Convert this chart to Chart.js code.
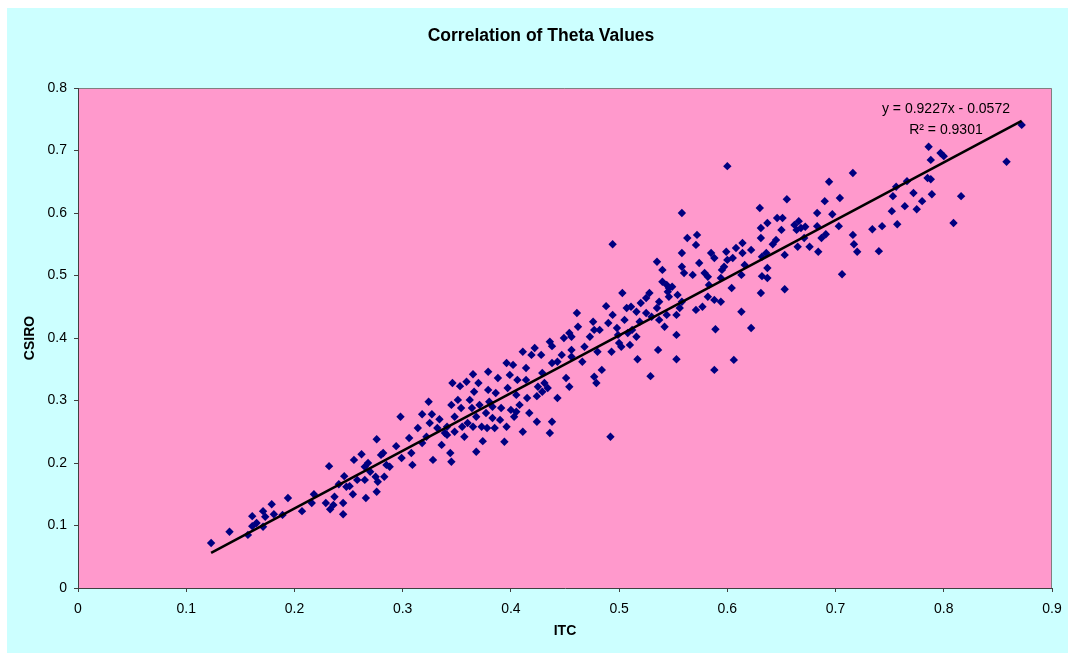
<!DOCTYPE html>
<html>
<head>
<meta charset="utf-8">
<title>Correlation of Theta Values</title>
<script src="https://cdn.jsdelivr.net/npm/chart.js@4/dist/chart.umd.min.js"></script>
<style>
  html, body { margin: 0; padding: 0; background: #ffffff; }
  #wrap { position: absolute; left: 0; top: 0; width: 1068px; height: 653px; }
</style>
</head>
<body>
<div id="wrap"><canvas id="c" width="1068" height="653"></canvas></div>
<script>
// Theta values per sample: ITC (x) against CSIRO (y)
const itcValues = [
  0.123,0.140,0.157,0.161,0.161,0.165,0.171,0.173,0.171,0.179,0.181,0.189,0.194,0.207,0.216,0.218,
  0.229,0.232,0.233,0.236,0.237,0.245,0.245,0.241,0.246,0.248,0.251,0.254,0.255,0.258,0.262,0.265,
  0.266,0.265,0.268,0.270,0.276,0.275,0.276,0.277,0.280,0.282,0.283,0.285,0.288,
  0.298,0.324,0.318,0.327,0.334,0.314,0.325,0.306,0.294,0.299,0.308,0.309,0.318,0.322,0.328,0.336,
  0.339,0.341,0.344,0.345,0.346,0.345,0.348,0.351,0.353,0.354,0.355,0.357,0.359,0.362,0.364,0.365,
  0.366,0.368,0.368,0.370,0.371,0.373,0.374,0.377,0.379,0.379,0.380,0.383,0.385,0.386,0.388,0.391,
  0.394,0.396,0.397,0.399,0.400,0.402,0.403,0.405,0.406,0.408,0.411,0.411,0.414,0.414,0.415,0.417,
  0.419,0.422,0.424,0.424,0.425,0.428,0.429,0.431,0.434,0.436,0.436,0.438,0.438,0.443,0.449,0.451,
  0.454,0.454,0.456,0.461,
  0.332,0.341,0.348,0.360,0.365,0.378,0.383,0.390,0.396,0.405,0.429,0.438,0.443,0.447,0.456,0.456,
  0.494,0.462,0.468,0.473,0.476,0.477,0.480,0.482,0.484,0.477,0.479,0.466,0.488,0.490,0.494,0.493,
  0.498,0.499,0.500,0.502,0.503,0.505,0.507,0.508,0.510,0.511,0.512,0.516,0.516,0.517,0.519,0.520,
  0.525,0.528,0.525,0.529,0.530,0.535,0.535,0.536,0.537,0.537,0.540,0.540,0.542,0.544,0.544,0.545,
  0.546,0.546,0.549,0.553,0.553,0.553,0.554,0.556,0.558,0.558,0.558,0.560,0.563,0.568,0.571,0.572,
  0.571,0.574,0.577,0.579,0.582,0.582,0.583,0.585,0.588,0.588,0.589,0.588,0.594,0.594,0.595,0.597,
  0.599,0.600,0.604,0.605,0.606,0.608,0.613,0.613,0.614,0.614,0.616,0.622,0.622,
  0.716,0.694,0.655,0.630,0.690,0.704,0.683,0.697,0.646,0.651,0.637,0.631,0.650,0.666,0.662,0.664,
  0.668,0.672,0.683,0.703,0.631,0.645,0.642,0.671,0.687,0.691,0.716,0.717,0.720,0.665,0.676,0.636,
  0.632,0.653,0.684,0.734,0.743,0.740,0.757,0.752,0.764,0.753,0.756,0.772,0.766,0.775,0.637,0.632,
  0.637,0.631,0.653,0.706,
  0.872,0.786,0.797,0.800,0.788,0.858,0.785,0.788,0.789,0.816,0.780,0.809,
  0.492,0.600,0.558
];
const csiroValues = [
  0.072,0.090,0.085,0.115,0.099,0.104,0.123,0.114,0.098,0.134,0.118,0.117,0.144,0.123,0.136,0.150,
  0.136,0.195,0.126,0.133,0.146,0.118,0.136,0.166,0.179,0.162,0.163,0.150,0.205,0.173,0.214,0.173,
  0.144,0.194,0.200,0.186,0.238,0.178,0.154,0.170,0.213,0.216,0.178,0.197,0.194,
  0.274,0.298,0.278,0.278,0.270,0.256,0.264,0.240,0.227,0.208,0.216,0.197,0.232,0.242,0.205,0.229,
  0.248,0.258,0.216,0.202,0.328,0.293,0.274,0.301,0.323,0.288,0.258,0.242,0.330,0.301,0.288,0.342,
  0.314,0.274,0.218,0.328,0.293,0.258,0.235,0.280,0.317,0.346,0.298,0.272,0.256,0.312,0.336,0.288,
  0.234,0.360,0.320,0.341,0.285,0.357,0.274,0.309,0.333,0.293,0.250,0.378,0.352,0.333,0.304,0.280,
  0.373,0.384,0.266,0.307,0.322,0.373,0.344,0.328,0.320,0.394,0.248,0.387,0.266,0.304,0.400,0.336,
  0.408,0.322,0.381,0.440,
  0.256,0.245,0.250,0.264,0.258,0.256,0.290,0.269,0.258,0.282,0.314,0.360,0.362,0.373,0.402,0.370,
  0.550,0.418,0.386,0.402,0.426,0.413,0.378,0.413,0.349,0.338,0.328,0.362,0.451,0.424,0.437,0.378,
  0.416,0.405,0.392,0.386,0.472,0.429,0.448,0.408,0.389,0.450,0.413,0.442,0.402,0.366,0.426,0.456,
  0.464,0.472,0.440,0.339,0.434,0.448,0.522,0.381,0.429,0.458,0.509,0.490,0.418,0.485,0.437,0.474,
  0.480,0.466,0.482,0.405,0.437,0.366,0.469,0.448,0.458,0.536,0.514,0.504,0.560,0.501,0.549,0.565,
  0.445,0.520,0.450,0.504,0.498,0.466,0.485,0.536,0.528,0.461,0.414,0.349,0.458,0.496,0.509,0.514,
  0.538,0.525,0.480,0.528,0.365,0.544,0.442,0.501,0.552,0.536,0.517,0.541,0.416,
  0.664,0.650,0.622,0.608,0.619,0.624,0.600,0.598,0.592,0.592,0.584,0.576,0.573,0.587,0.581,0.573,
  0.576,0.578,0.579,0.579,0.560,0.557,0.550,0.560,0.560,0.566,0.565,0.550,0.538,0.546,0.546,0.536,
  0.530,0.533,0.538,0.574,0.579,0.539,0.582,0.603,0.611,0.627,0.642,0.632,0.651,0.606,0.512,0.499,
  0.496,0.472,0.478,0.502,
  0.741,0.706,0.696,0.691,0.685,0.682,0.656,0.654,0.630,0.627,0.619,0.584,
  0.242,0.675,0.600
];

// Axis ticks
const xTickValues = [0, 0.1, 0.2, 0.3, 0.4, 0.5, 0.6, 0.7, 0.8, 0.9];
const xTickLabels = ['0', '0.1', '0.2', '0.3', '0.4', '0.5', '0.6', '0.7', '0.8', '0.9'];
const yTickValues = [0, 0.1, 0.2, 0.3, 0.4, 0.5, 0.6, 0.7, 0.8];
const yTickLabels = ['0', '0.1', '0.2', '0.3', '0.4', '0.5', '0.6', '0.7', '0.8'];

// Linear trendline and its fit statistics
const trendSlope = 0.9227;
const trendIntercept = -0.0572;
const trendRSquared = 0.9301;

const chartTitle = 'Correlation of Theta Values';
const xAxisTitle = 'ITC';
const yAxisTitle = 'CSIRO';

const FONT = '"Liberation Sans", Arial, Helvetica, sans-serif';

const points = itcValues.map((x, i) => ({ x: x, y: csiroValues[i] }));
const xMin = Math.min(...itcValues);
const xMax = Math.max(...itcValues);
const trendPoints = [
  { x: xMin, y: trendSlope * xMin + trendIntercept },
  { x: xMax, y: trendSlope * xMax + trendIntercept }
];

// Paints the outer panel, the plot background and the plot frame
const backgroundPlugin = {
  id: 'panelBackground',
  beforeDraw(chart) {
    const ctx = chart.ctx;
    const a = chart.chartArea;
    ctx.save();
    ctx.fillStyle = '#ffffff';
    ctx.fillRect(0, 0, chart.width, chart.height);
    ctx.fillStyle = '#ccffff';
    ctx.fillRect(7, 8, chart.width - 7, chart.height - 8);
    ctx.fillStyle = '#ff99cc';
    ctx.fillRect(a.left, a.top, a.right - a.left, a.bottom - a.top);
    ctx.strokeStyle = '#808080';
    ctx.lineWidth = 1;
    ctx.beginPath();
    ctx.moveTo(a.left, a.top + 0.5);
    ctx.lineTo(a.right - 0.5, a.top + 0.5);
    ctx.lineTo(a.right - 0.5, a.bottom);
    ctx.stroke();
    ctx.restore();
  }
};

// Chart heading and the trendline equation
const textPlugin = {
  id: 'chartTexts',
  afterDraw(chart) {
    const ctx = chart.ctx;
    const xs = chart.scales.x;
    const ys = chart.scales.y;
    ctx.save();
    ctx.fillStyle = '#000000';
    ctx.textAlign = 'center';
    ctx.textBaseline = 'middle';
    ctx.font = 'bold 17.5px ' + FONT;
    ctx.fillText(chartTitle, 541, 36);

    ctx.font = '14px ' + FONT;
    const ex = xs.getPixelForValue(0.802);
    ctx.fillText('y = ' + trendSlope.toFixed(4) + 'x - ' + Math.abs(trendIntercept).toFixed(4), ex, ys.getPixelForValue(0.766));
    ctx.fillText('R\u00B2 = ' + trendRSquared.toFixed(4), ex, ys.getPixelForValue(0.733));
    ctx.restore();
  }
};

new Chart(document.getElementById('c'), {
  type: 'scatter',
  data: {
    datasets: [
      {
        label: 'Linear (CSIRO)',
        data: trendPoints,
        showLine: true,
        borderColor: '#000000',
        borderWidth: 2.5,
        pointRadius: 0,
        fill: false,
        order: 0
      },
      {
        label: 'CSIRO',
        data: points,
        pointStyle: 'rectRot',
        pointRadius: 4.2,
        backgroundColor: '#000080',
        borderColor: '#000080',
        borderWidth: 0,
        order: 1
      }
    ]
  },
  options: {
    responsive: false,
    devicePixelRatio: 1,
    animation: false,
    layout: { padding: { left: 7, top: 88, right: 16, bottom: 0 } },
    plugins: {
      legend: { display: false },
      tooltip: { enabled: false },
      title: { display: false }
    },
    scales: {
      x: {
        type: 'linear',
        min: 0,
        max: 0.9,
        afterBuildTicks(scale) { scale.ticks = xTickValues.map(v => ({ value: v })); },
        afterFit(scale) { scale.height = 65; },
        ticks: {
          autoSkip: false,
          maxRotation: 0,
          padding: 6,
          color: '#000000',
          font: { family: FONT, size: 14, lineHeight: 1.6 },
          callback: (v, i) => xTickLabels[i]
        },
        grid: { drawOnChartArea: false, drawTicks: true, tickLength: 4, color: '#404040', lineWidth: 1 },
        border: { display: true, color: '#404040', width: 1 },
        title: {
          display: true,
          text: xAxisTitle,
          color: '#000000',
          font: { family: FONT, size: 14, weight: 'bold' },
          padding: { top: 0, bottom: 13 }
        }
      },
      y: {
        type: 'linear',
        min: 0,
        max: 0.8,
        afterBuildTicks(scale) { scale.ticks = yTickValues.map(v => ({ value: v })); },
        afterFit(scale) { scale.width = 71; },
        ticks: {
          autoSkip: false,
          padding: 7,
          color: '#000000',
          font: { family: FONT, size: 14 },
          callback: (v, i) => yTickLabels[i]
        },
        grid: { drawOnChartArea: false, drawTicks: true, tickLength: 4, color: '#404040', lineWidth: 1 },
        border: { display: true, color: '#404040', width: 1 },
        title: {
          display: true,
          text: yAxisTitle,
          color: '#000000',
          font: { family: FONT, size: 14, weight: 'bold' },
          padding: { top: 15, bottom: 0 }
        }
      }
    }
  },
  plugins: [backgroundPlugin, textPlugin]
});
</script>
</body>
</html>
